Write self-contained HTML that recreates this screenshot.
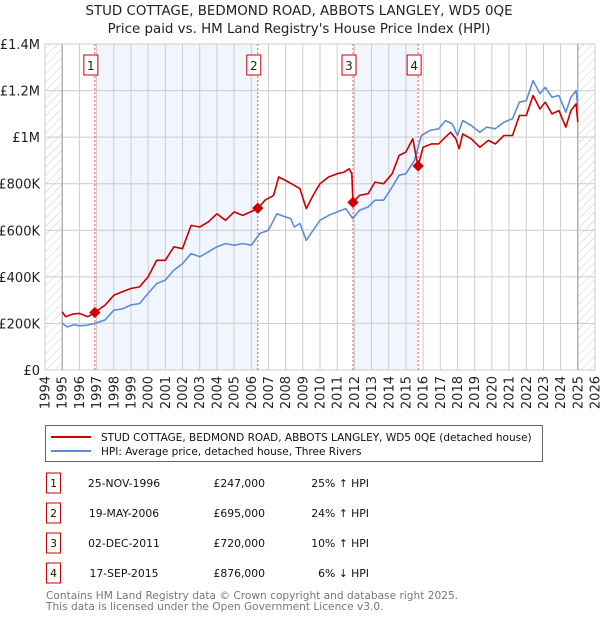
<!DOCTYPE html>
<html><head><meta charset="utf-8"><style>
body{margin:0;background:#fff;font-family:"Liberation Sans","DejaVu Sans",sans-serif;}
svg text{font-family:"DejaVu Sans","Liberation Sans",sans-serif;}
</style></head><body>
<svg id="chart" width="600" height="620" xmlns="http://www.w3.org/2000/svg">
<defs><pattern id="hatch" width="6" height="6" patternUnits="userSpaceOnUse" patternTransform="rotate(45)"><line x1="0" y1="0" x2="0" y2="6" stroke="#ccc" stroke-width="1"/></pattern></defs>
<text x="299" y="15" text-anchor="middle" font-size="13.4" fill="#222">STUD COTTAGE, BEDMOND ROAD, ABBOTS LANGLEY, WD5 0QE</text>
<text x="299" y="33" text-anchor="middle" font-size="13.4" fill="#222">Price paid vs. HM Land Registry's House Price Index (HPI)</text>
<g id="plot"></g>
<g>
<rect x="45.5" y="425.5" width="497" height="36" fill="#fff" stroke="#666"/>
<line x1="51" y1="437" x2="91" y2="437" stroke="#cc0000" stroke-width="2"/>
<text x="101" y="441" font-size="10.5" fill="#111">STUD COTTAGE, BEDMOND ROAD, ABBOTS LANGLEY, WD5 0QE (detached house)</text>
<line x1="51" y1="451" x2="91" y2="451" stroke="#5b8dd6" stroke-width="2"/>
<text x="101" y="455" font-size="10.5" fill="#111">HPI: Average price, detached house, Three Rivers</text>
</g>
<g id="table"></g>
<text x="46" y="599" font-size="10.6" fill="#777">Contains HM Land Registry data © Crown copyright and database right 2025.</text>
<text x="46" y="610" font-size="10.6" fill="#777">This data is licensed under the Open Government Licence v3.0.</text>
</svg>
<script>
const yearTicks=[1994,1995,1996,1997,1998,1999,2000,2001,2002,2003,2004,2005,2006,2007,2008,2009,2010,2011,2012,2013,2014,2015,2016,2017,2018,2019,2020,2021,2022,2023,2024,2025,2026];
const valueTicks=[0,200,400,600,800,1000,1200,1400];
const valueLabels=["£0","£200K","£400K","£600K","£800K","£1M","£1.2M","£1.4M"];
const hpiYears=[1995,1995.3,1995.7,1996,1996.4,1996.9,1997.5,1998,1998.5,1999,1999.5,2000,2000.5,2001,2001.5,2002,2002.5,2003,2003.5,2004,2004.5,2005,2005.5,2006,2006.5,2007,2007.5,2008,2008.3,2008.5,2008.83,2009.2,2009.6,2010,2010.5,2011,2011.5,2011.9,2012.3,2012.8,2013.2,2013.7,2014.2,2014.6,2015,2015.5,2015.9,2016.4,2016.9,2017.3,2017.7,2018,2018.3,2018.8,2019.3,2019.7,2020.2,2020.7,2021.2,2021.6,2022,2022.4,2022.8,2023.1,2023.5,2023.9,2024.3,2024.6,2024.9,2025];
const hpiValues=[200,185,195,190,192,200,215,257,262,279,285,329,371,386,429,457,500,486,507,529,543,536,543,536,586,600,671,657,650,614,629,557,600,643,664,679,693,650,686,700,729,729,786,836,843,900,1007,1029,1036,1071,1057,1007,1071,1050,1021,1043,1036,1064,1079,1150,1157,1243,1186,1214,1171,1179,1107,1171,1200,1129];
const ppYears=[1995,1995.2,1995.6,1996,1996.5,1996.9,1997.5,1998,1998.5,1999,1999.5,2000,2000.5,2001,2001.5,2002,2002.5,2003,2003.5,2004,2004.5,2005,2005.5,2006.38,2006.8,2007.3,2007.6,2008,2008.5,2008.83,2009.2,2009.6,2010,2010.5,2011,2011.4,2011.7,2011.85,2011.92,2012.3,2012.8,2013.2,2013.7,2014.2,2014.6,2015,2015.4,2015.6,2015.71,2016,2016.5,2016.9,2017.3,2017.6,2017.9,2018.1,2018.3,2018.8,2019.3,2019.8,2020.2,2020.7,2021.2,2021.6,2022,2022.4,2022.8,2023.1,2023.5,2023.9,2024.3,2024.6,2024.9,2025];
const ppValues=[250,229,240,243,229,247,279,321,336,350,357,400,471,471,529,521,621,614,636,671,643,679,664,693,729,750,829,814,793,779,693,750,800,829,843,850,864,843,720,750,757,807,800,843,921,936,993,914,876,957,971,971,1000,1021,993,950,1014,993,957,986,971,1007,1007,1093,1093,1179,1121,1150,1100,1114,1043,1114,1143,1064];
const saleLabels=["1","2","3","4"];
const saleYears=[1996.9,2006.38,2011.92,2015.71];
const salePrices=[247,695,720,876];
const saleDates=["25-NOV-1996","19-MAY-2006","02-DEC-2011","17-SEP-2015"];
const salePriceText=["£247,000","£695,000","£720,000","£876,000"];
const saleHpiText=["25% \u2191 HPI","24% \u2191 HPI","10% \u2191 HPI","6% \u2193 HPI"];

const NS="http://www.w3.org/2000/svg";
const X0=45,X1=595,Y0=370,Y1=44;
const xs=y=>X0+(y-1994)/32*(X1-X0);
const ys=v=>Y0-v/1400*(Y0-Y1);
const plot=document.getElementById('plot');
function mk(tag,attrs,parent){const e=document.createElementNS(NS,tag);for(const k in attrs)e.setAttribute(k,attrs[k]);(parent||plot).appendChild(e);return e;}
for(let i=0;i<4;i+=2){const b=mk('rect',{x:xs(saleYears[i]),y:Y1,width:xs(saleYears[i+1])-xs(saleYears[i]),height:Y0-Y1,fill:'#eef3fc',opacity:0.8});

}
const h1=mk('rect',{x:X0,y:Y1,width:xs(1995)-X0,height:Y0-Y1,fill:'url(#hatch)'});


const h2=mk('rect',{x:xs(2025),y:Y1,width:X1-xs(2025),height:Y0-Y1,fill:'url(#hatch)'});


yearTicks.forEach(y=>{const l=mk('line',{x1:xs(y),x2:xs(y),y1:Y1,y2:Y0,stroke:'#ccc'});


const t=mk('text',{transform:`translate(${(xs(y)+4.5).toFixed(1)},376) rotate(-90)`,'text-anchor':'end','font-size':13,fill:'#222'});t.textContent=y;

});
valueTicks.forEach((v,i)=>{const l=mk('line',{x1:X0,x2:X1,y1:ys(v),y2:ys(v),stroke:'#ccc'});


const t=mk('text',{x:40,y:ys(v)+5,'text-anchor':'end','font-size':13,fill:'#222'});t.textContent=valueLabels[i];

});
mk('line',{x1:xs(1995),x2:xs(1995),y1:Y1,y2:Y0,stroke:'#999'});
mk('line',{x1:xs(2025),x2:xs(2025),y1:Y1,y2:Y0,stroke:'#999'});
saleYears.forEach((y,i)=>{const l=mk('line',{x1:xs(y),x2:xs(y),y1:Y1,y2:Y0,stroke:'#e06060','stroke-dasharray':'2,2'});


const g=mk('g',{});


mk('rect',{x:xs(y)-11,y:55,width:14,height:20,fill:'#fff',stroke:'#cc0000'},g);
const t=mk('text',{x:xs(y)-4,y:70,'text-anchor':'middle','font-size':12,fill:'#222'},g);t.textContent=saleLabels[i];});
function path(xa,va,col,name){const d=xa.map((y,i)=>(i?'L':'M')+xs(y).toFixed(1)+','+ys(va[i]).toFixed(1)).join('');
const p=mk('path',{d:d,fill:'none',stroke:col,'stroke-width':1.6,'stroke-linejoin':'round'});

}
path(hpiYears,hpiValues,'#5b8dd6','hpi-line');
path(ppYears,ppValues,'#cc0000','price-paid-line');
saleYears.forEach((y,i)=>{const c=mk('rect',{x:xs(y)-4,y:ys(salePrices[i])-4,width:8,height:8,fill:'#cc0000',transform:`rotate(45 ${xs(y)} ${ys(salePrices[i])})`});

});
const tb=document.getElementById('table');
saleYears.forEach((y,i)=>{const cy=483+i*30;
const g=mk('g',{},tb);


mk('rect',{x:46.5,y:cy-10,width:14,height:20,fill:'#fff',stroke:'#cc0000'},g);
let t=mk('text',{x:53.5,y:cy+4,'text-anchor':'middle','font-size':10.8,fill:'#111'},g);t.textContent=saleLabels[i];
t=mk('text',{x:124,y:cy+4,'text-anchor':'middle','font-size':10.8,fill:'#111'},g);t.textContent=saleDates[i];
t=mk('text',{x:265,y:cy+4,'text-anchor':'end','font-size':10.8,fill:'#111'},g);t.textContent=salePriceText[i];
t=mk('text',{x:369,y:cy+4,'text-anchor':'end','font-size':10.8,fill:'#111'},g);t.textContent=saleHpiText[i];});
</script>
</body></html>
